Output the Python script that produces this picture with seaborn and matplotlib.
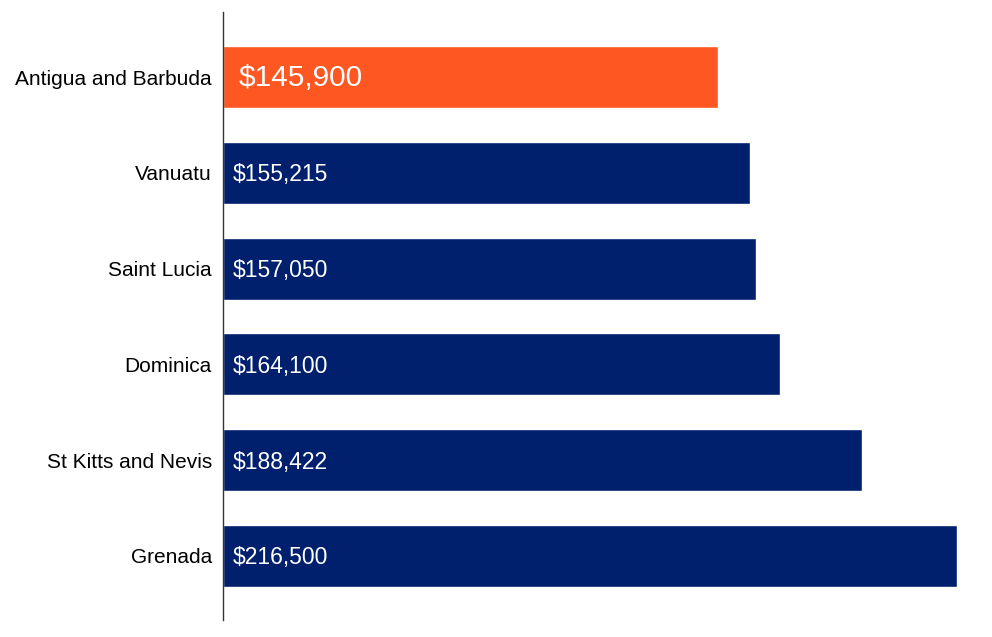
import matplotlib
matplotlib.use("Agg")
import matplotlib.pyplot as plt
import seaborn as sns
import pandas as pd

countries = ["Antigua and Barbuda", "Vanuatu", "Saint Lucia", "Dominica",
             "St Kitts and Nevis", "Grenada"]
values = [145900, 155215, 157050, 164100, 188422, 216500]
highlight = "Antigua and Barbuda"

ORANGE = "#FF5722"
NAVY = "#00206E"

sns.set_theme(style="white")
plt.rcParams["font.family"] = ["Liberation Sans", "DejaVu Sans"]

df = pd.DataFrame({"country": countries, "value": values})
palette = {c: (ORANGE if c == highlight else NAVY) for c in countries}

fig = plt.figure(figsize=(9.92, 6.37), dpi=100)
W, H = 992, 637
left, right, top, bottom = 223, 965, 12, 620
ax = fig.add_axes([left / W, 1 - bottom / H, (right - left) / W, (bottom - top) / H])

sns.barplot(data=df, x="value", y="country", hue="country", palette=palette,
            order=countries, width=0.647, legend=False, ax=ax, saturation=1)

xmax = 216500 * (right - left) / (957.5 - left)
ax.set_xlim(0, xmax)
ax.set_ylim(5.67, -0.68)

for i, (c, v) in enumerate(zip(countries, values)):
    if c == highlight:
        ax.annotate(f"${v:,}", xy=(0, i), xytext=(16, -1), textcoords="offset pixels",
                    ha="left", va="center", color="white", fontsize=21.5)
    else:
        ax.annotate(f"${v:,}", xy=(0, i), xytext=(10, -2), textcoords="offset pixels",
                    ha="left", va="center", color="white", fontsize=16.5)

ax.set_xlabel("")
ax.set_ylabel("")
ax.set_xticks([])
ax.tick_params(axis="y", length=0, pad=8, labelsize=15, labelcolor="black")
for s in ["top", "right", "bottom"]:
    ax.spines[s].set_visible(False)
ax.spines["left"].set_color("#333333")
ax.spines["left"].set_linewidth(1.0)

fig.savefig("out.png", dpi=100, facecolor="white")
